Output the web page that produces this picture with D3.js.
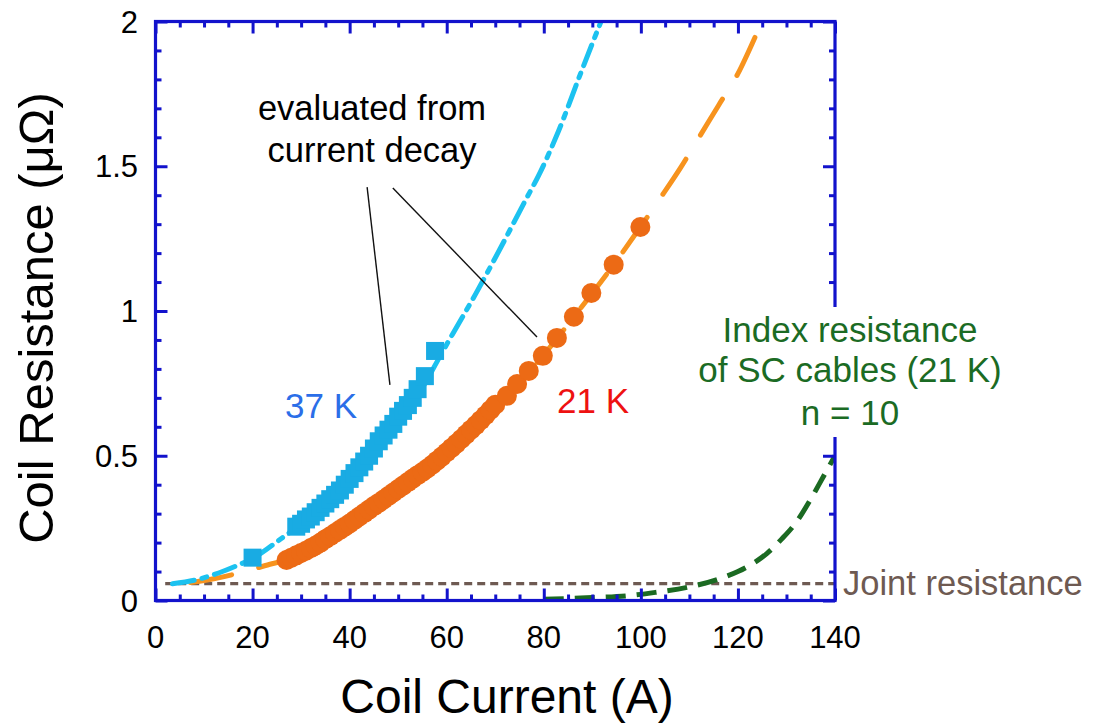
<!DOCTYPE html>
<html><head><meta charset="utf-8">
<script src="https://cdn.jsdelivr.net/npm/d3@7"></script>
<style>body{margin:0;background:#fff}svg{display:block}</style>
</head><body>
<svg id="chart" width="1095" height="726"></svg>
<script>
// ---------- data ----------
const xTickValues = [0, 20, 40, 60, 80, 100, 120, 140];
const xTickLabels = ["0", "20", "40", "60", "80", "100", "120", "140"];
const yTickValues = [0, 0.5, 1, 1.5, 2];
const yTickLabels = ["0", "0.5", "1", "1.5", "2"];

// 37 K measured (squares)
const sq37Current = [20, 29, 30, 31, 32, 33, 34, 35, 36, 37, 38, 39, 40, 41, 42, 43, 44, 45, 46, 47, 48, 49, 50, 51, 52, 53, 54, 55.5, 57.6];
const sq37Resist  = [0.148, 0.255, 0.265, 0.28, 0.29, 0.305, 0.32, 0.335, 0.35, 0.365, 0.38, 0.40, 0.42, 0.44, 0.46, 0.48, 0.50, 0.525, 0.55, 0.57, 0.59, 0.61, 0.635, 0.655, 0.675, 0.70, 0.73, 0.775, 0.862];

// 37 K fitted curve (dash-dot)
const fit37Current = [3.5, 8, 13, 17, 20, 26, 30, 35, 40, 45, 50, 55, 59, 61.2, 66, 71, 76.3, 79, 83, 87.8, 92.5];
const fit37Resist  = [0.058, 0.07, 0.095, 0.122, 0.145, 0.215, 0.265, 0.335, 0.415, 0.51, 0.615, 0.735, 0.855, 0.92, 1.06, 1.215, 1.385, 1.47, 1.62, 1.83, 2.03];

// 21 K measured (circles)
const c21Current = [27, 28, 29, 30, 31, 32, 33, 34, 35, 36, 37, 38, 39, 40, 41, 42, 43, 44, 45, 46, 47, 48, 49, 50, 51, 52, 53, 54, 55, 56, 57, 58, 59, 60, 61, 62, 63, 64, 65, 66, 67, 68, 69, 70, 72.4, 74.5, 76.9, 79.8, 82.7, 86.2, 89.8, 94.4, 99.9];
const c21Resist  = [0.140, 0.148, 0.156, 0.164, 0.172, 0.181, 0.190, 0.200, 0.212, 0.222, 0.233, 0.244, 0.255, 0.266, 0.278, 0.290, 0.302, 0.314, 0.326, 0.337, 0.349, 0.361, 0.373, 0.385, 0.397, 0.409, 0.421, 0.433, 0.444, 0.456, 0.469, 0.483, 0.497, 0.512, 0.527, 0.542, 0.558, 0.574, 0.590, 0.606, 0.623, 0.640, 0.658, 0.676, 0.707, 0.748, 0.793, 0.845, 0.907, 0.98, 1.062, 1.16, 1.29];

// 21 K fitted curve (dashed), listed from the high-current end
const fit21Current = [123.5, 120, 116, 112, 108, 104, 99.9, 94.4, 86.2, 79.8, 74.5, 70, 65, 60, 55, 50, 45, 40, 35, 30, 27, 24, 20, 16, 12, 8, 5];
const fit21Resist  = [1.945, 1.82, 1.71, 1.60, 1.49, 1.39, 1.29, 1.16, 0.98, 0.845, 0.748, 0.676, 0.590, 0.512, 0.444, 0.385, 0.326, 0.266, 0.212, 0.164, 0.14, 0.127, 0.108, 0.09, 0.075, 0.064, 0.058];

// Index resistance of SC cables (21 K), n = 10
const idxCurrent = [80, 90, 97, 103, 110, 116, 120, 123, 126, 129, 132, 135, 138, 140];
const idxResist  = [0.004, 0.01, 0.016, 0.028, 0.047, 0.074, 0.1, 0.127, 0.163, 0.212, 0.27, 0.35, 0.44, 0.5];

// Joint resistance
const jointCurrent = [2, 140];
const jointResist = [0.058, 0.058];

// annotation leader lines (data coords)
const leaderFrom = [[43.6, 1.428], [48.9, 1.425]];
const leaderTo   = [[48.3, 0.745], [78.6, 0.910]];

// ---------- layout ----------
const svg = d3.select("#chart");
const L = 155.5, R = 835, T = 21.5, B = 600.5;
const x = d3.scaleLinear().domain([0, 140]).range([L, R]);
const y = d3.scaleLinear().domain([0, 2]).range([B, T]);
const FONT = "'Liberation Sans', Arial, Helvetica, sans-serif";
const AXIS = "#1212cc";

svg.append("defs").append("clipPath").attr("id", "plotclip")
  .append("rect").attr("x", L).attr("y", T).attr("width", R - L).attr("height", B - T);

const plot = svg.append("g").attr("clip-path", "url(#plotclip)");

const zip = (a, b) => a.map((v, i) => [v, b[i]]);
const line = d3.line().x(d => x(d[0])).y(d => y(d[1])).curve(d3.curveMonotoneX);
const straight = d3.line().x(d => x(d[0])).y(d => y(d[1]));

// joint resistance
plot.append("path").attr("d", straight(zip(jointCurrent, jointResist)))
  .attr("fill", "none").attr("stroke", "#6e5a52").attr("stroke-width", 3.2)
  .attr("stroke-dasharray", "8,5");

// index resistance
plot.append("path").attr("d", line(zip(idxCurrent, idxResist)))
  .attr("fill", "none").attr("stroke", "#1b6a22").attr("stroke-width", 5)
  .attr("stroke-dasharray", "20,11");

// 21 K fit
plot.append("path").attr("d", line(zip(fit21Current, fit21Resist)))
  .attr("fill", "none").attr("stroke", "#f7931e").attr("stroke-width", 5)
  .attr("stroke-linecap", "round")
  .attr("stroke-dasharray", "42,28");

// 37 K fit
plot.append("path").attr("d", line(zip(fit37Current, fit37Resist)))
  .attr("fill", "none").attr("stroke", "#1cc2f0").attr("stroke-width", 5)
  .attr("stroke-linecap", "round")
  .attr("stroke-dasharray", "22,8,5,8");

// 21 K circles
plot.selectAll("circle.c21").data(zip(c21Current, c21Resist)).enter()
  .append("circle").attr("class", "c21")
  .attr("cx", d => x(d[0])).attr("cy", d => y(d[1])).attr("r", 10)
  .attr("fill", "#ec6a15");

// 37 K squares
const S = 18;
plot.selectAll("rect.s37").data(zip(sq37Current, sq37Resist)).enter()
  .append("rect").attr("class", "s37")
  .attr("x", d => x(d[0]) - S / 2).attr("y", d => y(d[1]) - S / 2)
  .attr("width", S).attr("height", S)
  .attr("fill", "#19abe3");

// leader lines
svg.selectAll("line.leader").data(leaderFrom.map((f, i) => [f, leaderTo[i]])).enter()
  .append("line").attr("class", "leader")
  .attr("x1", d => x(d[0][0])).attr("y1", d => y(d[0][1]))
  .attr("x2", d => x(d[1][0])).attr("y2", d => y(d[1][1]))
  .attr("stroke", "#111").attr("stroke-width", 1.4);

// ---------- axes ----------
const xMinor = d3.range(0, 141, 5).filter(v => !xTickValues.includes(v));
const yMinor = d3.range(0, 2.001, 0.1).map(v => +v.toFixed(1)).filter(v => !yTickValues.includes(v));

function styleAxis(g) {
  g.select(".domain").remove();
  g.selectAll("line").attr("stroke", AXIS).attr("stroke-width", 3);
  g.selectAll("text").remove();
}
svg.append("g").attr("transform", `translate(0,${B})`).call(d3.axisBottom(x).tickValues(xTickValues).tickSize(-12)).call(styleAxis);
svg.append("g").attr("transform", `translate(0,${B})`).call(d3.axisBottom(x).tickValues(xMinor).tickSize(-6)).call(styleAxis);
svg.append("g").attr("transform", `translate(0,${T})`).call(d3.axisTop(x).tickValues(xTickValues).tickSize(-12)).call(styleAxis);
svg.append("g").attr("transform", `translate(0,${T})`).call(d3.axisTop(x).tickValues(xMinor).tickSize(-6)).call(styleAxis);
svg.append("g").attr("transform", `translate(${L},0)`).call(d3.axisLeft(y).tickValues(yTickValues).tickSize(-12)).call(styleAxis);
svg.append("g").attr("transform", `translate(${L},0)`).call(d3.axisLeft(y).tickValues(yMinor).tickSize(-6)).call(styleAxis);
svg.append("g").attr("transform", `translate(${R},0)`).call(d3.axisRight(y).tickValues(yTickValues).tickSize(-12)).call(styleAxis);
svg.append("g").attr("transform", `translate(${R},0)`).call(d3.axisRight(y).tickValues(yMinor).tickSize(-6)).call(styleAxis);

svg.append("rect").attr("x", L).attr("y", T).attr("width", R - L).attr("height", B - T)
  .attr("fill", "none").attr("stroke", AXIS).attr("stroke-width", 3.2);

// tick labels
svg.selectAll("text.xt").data(xTickValues).enter().append("text")
  .attr("x", d => x(d)).attr("y", 648).attr("text-anchor", "middle")
  .attr("font-family", FONT).attr("font-size", 31).attr("fill", "#000")
  .text((d, i) => xTickLabels[i]);
svg.selectAll("text.yt").data(yTickValues).enter().append("text")
  .attr("x", 138).attr("y", d => y(d) + 11).attr("text-anchor", "end")
  .attr("font-family", FONT).attr("font-size", 31).attr("fill", "#000")
  .text((d, i) => yTickLabels[i]);

// axis titles
svg.append("text").attr("x", 507).attr("y", 713).attr("text-anchor", "middle")
  .attr("font-family", FONT).attr("font-size", 48).attr("fill", "#000")
  .text("Coil Current (A)");
svg.append("text").attr("transform", "translate(53,318) rotate(-90)").attr("text-anchor", "middle")
  .attr("font-family", FONT).attr("font-size", 49).attr("fill", "#000")
  .text("Coil Resistance (μΩ)");

// annotations
const ann = svg.append("g").attr("font-family", FONT);
ann.append("text").attr("x", 372).attr("y", 120).attr("text-anchor", "middle")
  .attr("font-size", 34.5).attr("fill", "#000").text("evaluated from");
ann.append("text").attr("x", 372).attr("y", 162).attr("text-anchor", "middle")
  .attr("font-size", 34.5).attr("fill", "#000").text("current decay");
ann.append("text").attr("x", 285).attr("y", 418)
  .attr("font-size", 35).attr("fill", "#2b6ee8").text("37 K");
ann.append("text").attr("x", 557).attr("y", 413)
  .attr("font-size", 35).attr("fill", "#ee1111").text("21 K");

// index resistance label with white background over the right spine
ann.append("rect").attr("x", 700).attr("y", 307).attr("width", 305).attr("height", 130).attr("fill", "#fff");
["Index resistance", "of SC cables (21 K)", "n = 10"].forEach((t, i) => {
  ann.append("text").attr("x", 850).attr("y", [342, 382, 425][i]).attr("text-anchor", "middle")
    .attr("font-size", 35).attr("fill", "#1b6b24").text(t);
});
ann.append("text").attr("x", 843).attr("y", 595)
  .attr("font-size", 34.5).attr("fill", "#6e5a52").text("Joint resistance");
</script>
</body></html>
